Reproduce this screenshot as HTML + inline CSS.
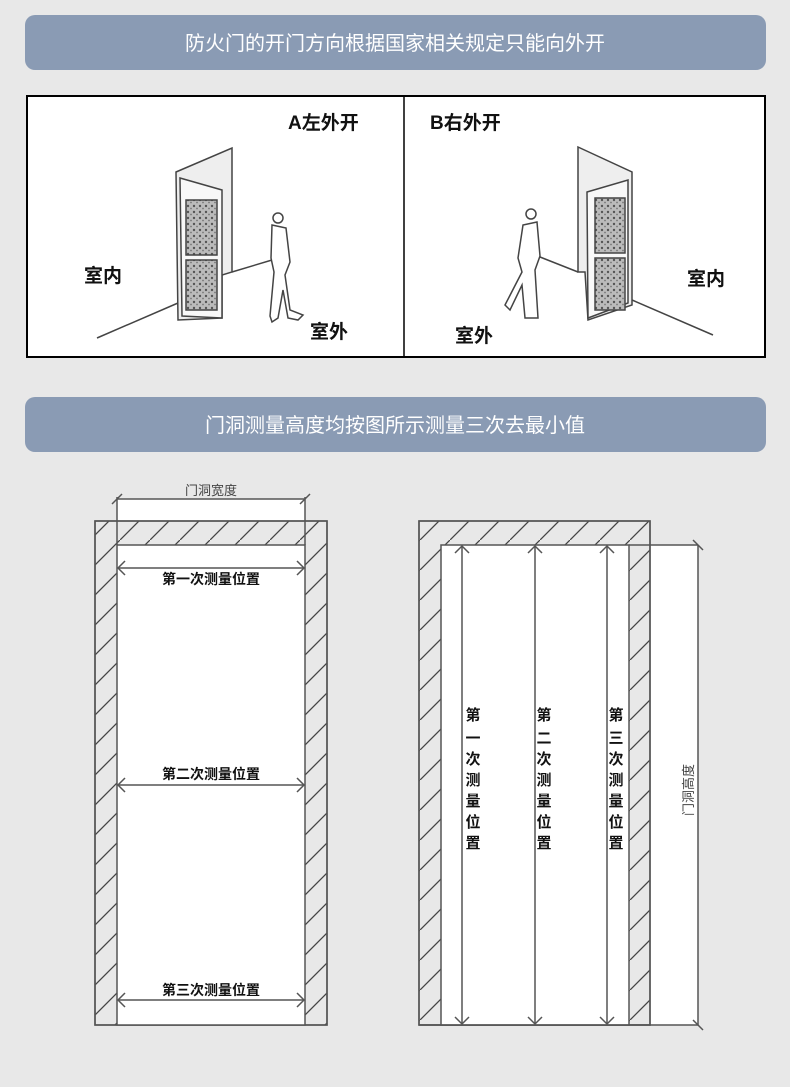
<!DOCTYPE html>
<html><head><meta charset="utf-8"><style>
body{margin:0;background:#e8e8e8;width:790px;height:1082px;overflow:hidden;font-family:"Liberation Sans","Noto Sans CJK SC",sans-serif}
</style></head><body>
<svg width="790" height="1082" viewBox="0 0 790 1082" xmlns="http://www.w3.org/2000/svg" font-family="Liberation Sans, Noto Sans CJK SC, sans-serif">
<defs>
<pattern id="h" patternUnits="userSpaceOnUse" width="30" height="30">
<line x1="-2" y1="32" x2="32" y2="-2" stroke="#444" stroke-width="1.3"/>
</pattern>
<pattern id="n" patternUnits="userSpaceOnUse" width="6" height="6">
<rect width="6" height="6" fill="#bbb"/><circle cx="2" cy="2" r="1.2" fill="#555"/><circle cx="5" cy="4.5" r="0.9" fill="#777"/>
</pattern>
</defs>
<rect x="25" y="15" width="741" height="55" rx="10" fill="#8a9bb4"/>
<text x="395" y="50" font-size="20" fill="#fff" text-anchor="middle">防火门的开门方向根据国家相关规定只能向外开</text>
<rect x="25" y="397" width="741" height="55" rx="10" fill="#8a9bb4"/>
<text x="395" y="432" font-size="20" fill="#fff" text-anchor="middle">门洞测量高度均按图所示测量三次去最小值</text>

<rect x="27" y="96" width="738" height="261" fill="#fff" stroke="#000" stroke-width="2"/>
<line x1="404" y1="96" x2="404" y2="357" stroke="#000" stroke-width="1.5"/>
<g font-size="19" font-weight="bold" fill="#111">
<text x="288" y="129">A左外开</text><text x="430" y="129">B右外开</text>
<text x="84" y="282">室内</text><text x="310" y="338">室外</text>
<text x="455" y="342">室外</text><text x="687" y="285">室内</text>
</g>
<!-- left door -->
<g stroke="#444" fill="none" stroke-width="1.5">
<line x1="97" y1="338" x2="178" y2="303"/><line x1="232" y1="272" x2="272" y2="260"/>
<polygon points="176,172 232,148 232,272 222,275 222,318 178,320" fill="#eee"/>
<polygon points="180,178 222,190 222,318 182,316" fill="#f8f8f8"/>
<rect x="186" y="200" width="31" height="55" fill="url(#n)"/>
<rect x="186" y="260" width="31" height="50" fill="url(#n)"/>
<circle cx="278" cy="218" r="5"/>
<path d="M272,225 L286,228 L290,262 L285,275 L290,310 L303,315 L298,320 L288,318 L283,290 L278,318 L272,322 L270,316 L274,272 L271,258 Z" fill="#fff"/>
</g>
<!-- right door -->
<g stroke="#444" fill="none" stroke-width="1.5">
<line x1="632" y1="300" x2="713" y2="335"/><line x1="540" y1="257" x2="578" y2="272"/>
<polygon points="578,147 632,172 632,305 588,320 585,272 578,272" fill="#eee"/>
<polygon points="587,192 628,180 628,303 588,318" fill="#f8f8f8"/>
<rect x="595" y="198" width="30" height="55" fill="url(#n)"/>
<rect x="595" y="258" width="30" height="52" fill="url(#n)"/>
<circle cx="531" cy="214" r="5"/>
<path d="M537,222 L523,225 L518,258 L522,272 L505,305 L510,310 L522,285 L525,318 L538,318 L535,270 L540,256 Z" fill="#fff"/>
</g>

<!-- left plan -->
<g stroke="#555" stroke-width="1.5">
<rect x="117" y="499" width="188" height="22" fill="#fff" stroke="none"/>
<rect x="95" y="521" width="232" height="504" fill="url(#h)"/>
<rect x="95" y="521" width="232" height="504" fill="none"/>
<rect x="117" y="545" width="188" height="480" fill="#fff"/>
<line x1="117" y1="499" x2="305" y2="499"/>
<line x1="117" y1="497" x2="117" y2="545"/><line x1="305" y1="497" x2="305" y2="545"/>
<line x1="112" y1="504" x2="122" y2="494"/><line x1="300" y1="504" x2="310" y2="494"/>
<g fill="none">
<line x1="118" y1="568" x2="304" y2="568"/><polyline points="125,561 118,568 125,575"/><polyline points="297,561 304,568 297,575"/>
<line x1="118" y1="785" x2="304" y2="785"/><polyline points="125,778 118,785 125,792"/><polyline points="297,778 304,785 297,792"/>
<line x1="118" y1="1000" x2="304" y2="1000"/><polyline points="125,993 118,1000 125,1007"/><polyline points="297,993 304,1000 297,1007"/>
</g>
</g>
<text x="211" y="495" font-size="13" fill="#444" text-anchor="middle">门洞宽度</text>
<g font-size="14" font-weight="bold" fill="#111" text-anchor="middle">
<text x="211" y="584">第一次测量位置</text><text x="211" y="779">第二次测量位置</text><text x="211" y="995">第三次测量位置</text>
</g>

<!-- right plan -->
<g stroke="#555" stroke-width="1.5">
<rect x="650" y="545" width="48" height="480" fill="#fff" stroke="none"/>
<rect x="419" y="521" width="231" height="504" fill="url(#h)"/>
<rect x="419" y="521" width="231" height="504" fill="none"/>
<rect x="441" y="545" width="188" height="480" fill="#fff"/>
<line x1="629" y1="545" x2="698" y2="545"/><line x1="698" y1="545" x2="698" y2="1025"/>
<line x1="419" y1="1025" x2="698" y2="1025"/>
<line x1="693" y1="540" x2="703" y2="550"/><line x1="693" y1="1020" x2="703" y2="1030"/>
<g fill="none">
<line x1="462" y1="546" x2="462" y2="1024"/><polyline points="455,553 462,546 469,553"/><polyline points="455,1017 462,1024 469,1017"/>
<line x1="535" y1="546" x2="535" y2="1024"/><polyline points="528,553 535,546 542,553"/><polyline points="528,1017 535,1024 542,1017"/>
<line x1="607" y1="546" x2="607" y2="1024"/><polyline points="600,553 607,546 614,553"/><polyline points="600,1017 607,1024 614,1017"/>
</g>
</g>
<g font-size="15" font-weight="bold" fill="#111" text-anchor="middle">
<rect x="463" y="700" width="20" height="155" fill="#fff"/>
<rect x="536" y="700" width="20" height="155" fill="#fff"/>
<rect x="608" y="700" width="20" height="155" fill="#fff"/>
<text x="473" y="720">第</text><text x="473" y="743">一</text><text x="473" y="764">次</text><text x="473" y="785">测</text><text x="473" y="806">量</text><text x="473" y="827">位</text><text x="473" y="848">置</text>
<text x="544" y="720">第</text><text x="544" y="743">二</text><text x="544" y="764">次</text><text x="544" y="785">测</text><text x="544" y="806">量</text><text x="544" y="827">位</text><text x="544" y="848">置</text>
<text x="616" y="720">第</text><text x="616" y="743">三</text><text x="616" y="764">次</text><text x="616" y="785">测</text><text x="616" y="806">量</text><text x="616" y="827">位</text><text x="616" y="848">置</text>
</g>
<text transform="translate(693,790) rotate(-90)" font-size="13" fill="#444" text-anchor="middle">门洞高度</text>
</svg>
</body></html>
